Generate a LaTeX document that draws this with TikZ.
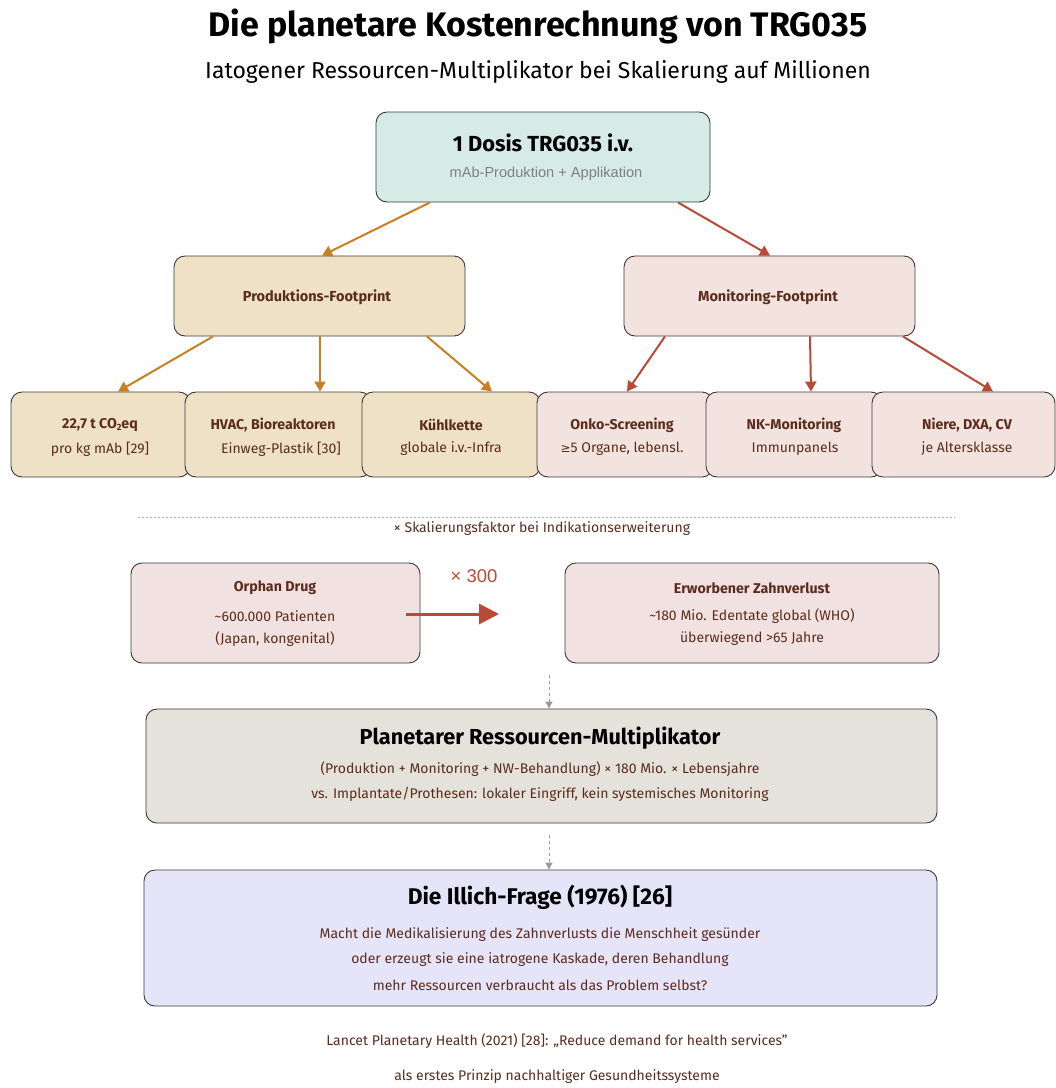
\documentclass[tikz,border=0pt]{standalone}
\usepackage{fontspec}
\setmainfont{Fira Sans}
\newfontfamily\arialf{Liberation Sans}
\usetikzlibrary{arrows.meta}
\definecolor{cteal}{HTML}{D6EBE5}
\definecolor{cbeige}{HTML}{EFE1C6}
\definecolor{cpink}{HTML}{F3E3DF}
\definecolor{corph}{HTML}{F1E2E1}
\definecolor{cgrey}{HTML}{E5E2DB}
\definecolor{clav}{HTML}{E6E4F8}
\definecolor{corange}{HTML}{C97F22}
\definecolor{cred}{HTML}{B84A36}
\definecolor{cbrown}{HTML}{5B2C1C}
\definecolor{cline}{HTML}{3A3A3A}
\tikzset{
  box/.style={draw=cline, line width=0.9pt, rounded corners=11pt, rectangle, inner sep=0pt},
  ttl/.style={text=cbrown, font=\fontsize{14.2}{16}\selectfont\bfseries, inner sep=0pt},
  sub/.style={text=cbrown, font=\fontsize{14}{16}\selectfont, inner sep=0pt},
  oarr/.style={draw=corange, line width=2pt, -{Triangle[length=10pt,width=11pt]}},
  rarr/.style={draw=cred, line width=2pt, -{Triangle[length=10pt,width=11pt]}},
  garr/.style={draw=gray!80, line width=1pt, dashed, -{Triangle[length=7pt,width=7pt]}},
}
\begin{document}
\begin{tikzpicture}[x=1pt,y=-1pt]
\useasboundingbox (0,0) rectangle (1056,1088);
\fill[white] (0,0) rectangle (1056,1088);
% title
\node[font=\fontsize{34}{38}\selectfont\bfseries, inner sep=0pt] (title) at (538,26) {Die planetare Kostenrechnung von TRG035};
\node[font=\fontsize{23}{26}\selectfont, inner sep=0pt] (subtitle) at (538,72) {Iatogener Ressourcen-Multiplikator bei Skalierung auf Millionen};
% top node
\node[box, fill=cteal, minimum width=334pt, minimum height=90pt] (dose) at (543,157) {};
\node[font=\fontsize{21.8}{24}\selectfont\bfseries, inner sep=0pt] (dosett) at (543,143) {1 Dosis TRG035 i.v.};
\node[font=\arialf\fontsize{14.6}{16}\selectfont, text=gray, inner sep=0pt] (dosesub) at (546,174) {mAb-Produktion + Applikation};
% footprints
\node[box, fill=cbeige, minimum width=291pt, minimum height=80pt] (prod) at (319.5,296) {};
\node[ttl, font=\fontsize{14.5}{16}\selectfont\bfseries] (prodt) at (317,297) {Produktions-Footprint};
\node[box, fill=cpink, minimum width=291pt, minimum height=80pt] (moni) at (769.5,296) {};
\node[ttl, font=\fontsize{14.5}{16}\selectfont\bfseries] (monit) at (768,297) {Monitoring-Footprint};
% bottom boxes
\node[box, fill=cbeige, minimum width=179pt, minimum height=85pt] (b1) at (100.5,434.5) {};
\node[box, fill=cbeige, minimum width=186pt, minimum height=85pt] (b2) at (278,434.5) {};
\node[box, fill=cbeige, minimum width=178pt, minimum height=85pt] (b3) at (451,434.5) {};
\node[box, fill=cpink, minimum width=176pt, minimum height=85pt] (b4) at (625,434.5) {};
\node[box, fill=cpink, minimum width=176pt, minimum height=85pt] (b5) at (794,434.5) {};
\node[box, fill=cpink, minimum width=183pt, minimum height=85pt] (b6) at (963.5,434.5) {};
\node[ttl] (b1t) at (100,425) {22,7 t CO\raisebox{-0.25ex}{\fontsize{9}{10}\selectfont 2}eq};
\node[sub] (b1s) at (100,449) {pro kg mAb [29]};
\node[ttl] (b2t) at (273,425) {HVAC, Bioreaktoren};
\node[sub] (b2s) at (281,449) {Einweg-Plastik [30]};
\node[ttl] (b3t) at (451,425) {Kühlkette};
\node[sub] (b3s) at (451,449) {globale i.v.-Infra};
\node[ttl] (b4t) at (622,425) {Onko-Screening};
\node[sub] (b4s) at (622,449) {{\fontspec{DejaVu Sans}\fontsize{12}{14}\selectfont ≥}5 Organe, lebensl.};
\node[ttl] (b5t) at (794,425) {NK-Monitoring};
\node[sub] (b5s) at (795,449) {Immunpanels};
\node[ttl] (b6t) at (967,425) {Niere, DXA, CV};
\node[sub] (b6s) at (967,449) {je Altersklasse};
% arrows
\draw[oarr] (dose.south -| 430,0) -- (prod.north -| 322,0);
\draw[rarr] (dose.south -| 678,0) -- (moni.north -| 770,0);
\draw[oarr] (prod.south -| 213,0) -- (b1.north -| 118,0);
\draw[oarr] (prod.south -| 320,0) -- (b2.north -| 320,0);
\draw[oarr] (prod.south -| 427,0) -- (b3.north -| 492,0);
\draw[rarr] (moni.south -| 665,0) -- (b4.north -| 627,0);
\draw[rarr] (moni.south -| 810,0) -- (b5.north -| 811,0);
\draw[rarr] (moni.south -| 903,0) -- (b6.north -| 993,0);
% separator
\coordinate (sepL) at (138,517);
\coordinate (sepR) at (955,517);
\draw[gray!60, line width=0.8pt, dash pattern=on 2pt off 2pt] (sepL) -- (sepR);
\node[sub] (sep) at (542,529) {× Skalierungsfaktor bei Indikationserweiterung};
% scaling boxes
\node[box, fill=corph, minimum width=289pt, minimum height=100pt] (orph) at (275.5,613) {};
\node[ttl] (orpht) at (275,588) {Orphan Drug};
\node[sub] (orphs1) at (275,616) {\textasciitilde600.000 Patienten};
\node[sub] (orphs2) at (275,639) {(Japan, kongenital)};
\node[box, fill=corph, minimum width=374pt, minimum height=100pt] (zahn) at (752,613) {};
\node[ttl] (zahnt) at (752,588) {Erworbener Zahnverlust};
\node[sub] (zahns1) at (752,616) {\textasciitilde180 Mio. Edentate global (WHO)};
\node[sub] (zahns2) at (752,639) {überwiegend >65 Jahre};
\coordinate (xa) at (406,614);
\coordinate (xb) at (499,614);
\draw[draw=cred, line width=3pt, -{Triangle[length=20pt,width=20pt]}] (xa) -- (xb);
\node[font=\arialf\fontsize{18.5}{20}\selectfont, text=cred, inner sep=0pt] (x300) at (474,576) {× 300};
% planetarer
\node[box, fill=cgrey, minimum width=791pt, minimum height=114pt] (plan) at (541.5,766) {};
\node[font=\fontsize{21.7}{26}\selectfont\bfseries, inner sep=0pt] (plant) at (540,738) {Planetarer Ressourcen-Multiplikator};
\node[sub] (plans1) at (540,769) {(Produktion + Monitoring + NW-Behandlung) × 180 Mio. × Lebensjahre};
\node[sub] (plans2) at (540,794) {vs. Implantate/Prothesen: lokaler Eingriff, kein systemisches Monitoring};
\coordinate (g1) at (549,675);
\draw[garr] (g1) -- (plan.north -| g1);
% illich
\node[box, fill=clav, minimum width=793pt, minimum height=136pt] (ill) at (540.5,938) {};
\node[font=\fontsize{22.7}{26}\selectfont\bfseries, inner sep=0pt] (illt) at (540,897) {Die Illich-Frage (1976) [26]};
\node[sub] (ills1) at (540,935) {Macht die Medikalisierung des Zahnverlusts die Menschheit gesünder};
\node[sub] (ills2) at (540,960) {oder erzeugt sie eine iatrogene Kaskade, deren Behandlung};
\node[sub] (ills3) at (540,985) {mehr Ressourcen verbraucht als das Problem selbst?};
\coordinate (g2) at (549,835);
\draw[garr] (g2) -- (ill.north -| g2);
% footer
\node[sub] (foot1) at (557,1041) {Lancet Planetary Health (2021) [28]: „Reduce demand for health services"};
\node[sub] (foot2) at (557,1077) {als erstes Prinzip nachhaltiger Gesundheitssysteme};
\end{tikzpicture}
\end{document}
